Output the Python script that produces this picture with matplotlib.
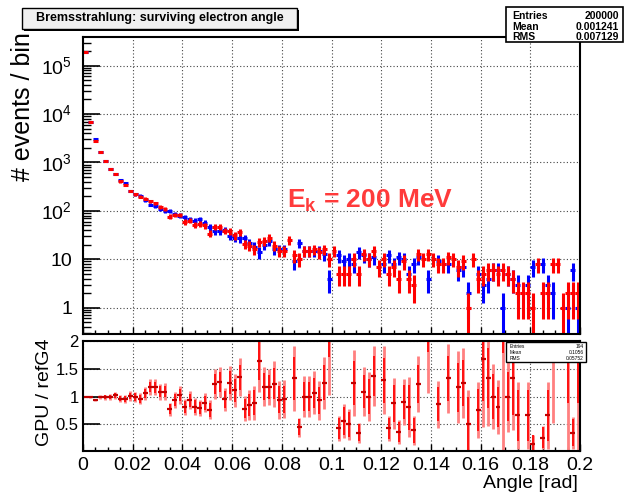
import numpy as np
import matplotlib.pyplot as plt
from matplotlib.patches import Rectangle
from matplotlib.ticker import FixedLocator, LogLocator, MultipleLocator, NullFormatter

plt.rcParams['font.family'] = ['Liberation Sans', 'DejaVu Sans']
plt.rcParams['mathtext.fontset'] = 'custom'
plt.rcParams['mathtext.rm'] = 'Liberation Sans'
plt.rcParams['mathtext.bf'] = 'Liberation Sans:bold'

# histogram binning: 100 bins over [0, 0.2] rad
n_bins = 100
x_lo, x_hi = 0.0, 0.2

# counts per bin, GPU (red) and reference Geant4 (blue)
gpu_counts = [189000, 6900, 2800, 1660, 1050, 740, 575, 405, 345, 259,
              218, 197, 177, 158, 144, 120, 108, 76, 82, 82,
              60, 63, 52, 54, 50, 34, 47, 47, 39, 38,
              31, 36, 21, 19, 16, 23, 24, 28, 19, 15,
              15, 25, 12, 10, 15, 15, 16, 14, 16, 10,
              15, 5, 5, 5, 10, 5, 13, 10, 15, 7,
              10, 5, 7, 4, 9, 4, 3, 13, 10, 13,
              10, 8, 8, 11, 10, 7, 9, 1, 10, 4,
              5, 6, 6, 5, 6, 5, 4, 2, 2, 2,
              1, 8, 2, 2, 8, 8, 1, 2, 2, 2]
ref_counts = [189000, 6900, 2990, 1680, 1060, 745, 570, 430, 368, 258,
              218, 205, 168, 135, 124, 110, 99, 99, 87, 80,
              74, 68, 63, 68, 56, 46, 38, 38, 41, 30,
              28, 27, 27, 22, 18, 14, 20, 24, 16, 16,
              16, 0, 9, 22, 15, 15, 15, 15, 13, 4,
              0, 12, 9, 10, 8, 14, 12, 10, 11, 0,
              8, 12, 8, 11, 10, 5, 8, 11, 0, 4,
              0, 9, 0, 8, 0, 6, 7, 2, 0, 5,
              3, 4, 6, 6, 1, 5, 4, 3, 0, 3,
              7, 0, 8, 3, 2, 0, 0, 1, 6, 1]
# ratio GPU / refG4 per bin (nan = no point)
ratio_vals = [1.0, 1.0, 0.94, 0.99, 0.99, 0.99, 1.02, 0.96, 0.95, 1.01,
              0.99, 0.96, 1.06, 1.17, 1.17, 1.09, 1.09, 0.77, 0.94, 1.03,
              0.81, 0.93, 0.82, 0.79, 0.89, 0.76, 1.23, 1.26, 0.95, 1.25,
              1.11, 1.35, 0.78, 0.85, 0.89, 1.64, 1.18, 1.17, 1.23, 0.94,
              0.95, np.nan, 1.33, 0.45, 1.0, 1.0, 1.07, 0.93, 1.25, 2.5,
              np.nan, 0.43, 0.56, 0.5, 1.25, 0.35, 1.09, 1.0, 1.37, np.nan,
              1.29, 0.43, 0.88, 0.36, 0.9, 0.81, 0.39, 1.23, np.nan, 2.5,
              np.nan, 0.86, np.nan, 1.33, np.nan, 1.17, 1.25, 0.5, np.nan, 0.76,
              1.67, 1.33, 1.0, 0.81, 3.0, 1.0, 1.33, 0.66, np.nan, 0.66,
              0.15, np.nan, 0.26, 0.66, 2.5, np.nan, np.nan, 3.0, 0.35, 3.0]

title_text = 'Bremsstrahlung: surviving electron angle'
stats_main = [('Entries', '200000'), ('Mean', '0.001241'), ('RMS', '0.007129')]
stats_ratio = [('Entries', '194'), ('Mean', '0.1056'), ('RMS', '0.05752')]

W, H = 624, 498


def fx(px):
    return px / W


def fy(py):
    return 1 - py / H


edges = np.linspace(x_lo, x_hi, n_bins + 1)
centers = 0.5 * (edges[:-1] + edges[1:])
half = 0.5 * (edges[1] - edges[0])

fig = plt.figure(figsize=(W / 100, H / 100), dpi=100)
ax = fig.add_axes([fx(83), fy(334), fx(580) - fx(83), fy(37) - fy(334)])
rax = fig.add_axes([fx(83), fy(451), fx(580) - fx(83), fy(341) - fy(451)])


def draw_hist(counts, color):
    c = np.asarray(counts, float)
    m = c > 0
    err = np.sqrt(c[m])
    lo = np.minimum(err, c[m] * 0.999)
    ax.errorbar(centers[m], c[m], xerr=half, yerr=[lo, err], fmt='none',
                ecolor=color, elinewidth=2.2, capsize=0)


draw_hist(ref_counts, '#0000ff')
draw_hist(gpu_counts, '#ff0000')

ax.set_yscale('log')
ax.set_xlim(x_lo, x_hi)
ax.set_ylim(0.286, 3.9e5)
ax.yaxis.set_major_locator(FixedLocator([1, 10, 100, 1e3, 1e4, 1e5]))
ax.set_yticklabels(['1', '10', '$10^{2}$', '$10^{3}$', '$10^{4}$', '$10^{5}$'])
ax.yaxis.set_minor_locator(LogLocator(base=10, subs=np.arange(2, 10), numticks=20))
ax.yaxis.set_minor_formatter(NullFormatter())
ax.xaxis.set_major_locator(MultipleLocator(0.02))
ax.xaxis.set_minor_locator(MultipleLocator(0.005))
ax.xaxis.set_major_formatter(NullFormatter())
ax.tick_params(which='both', direction='in', top=False, right=False)
ax.tick_params(axis='y', which='major', length=12, width=1.2, labelsize=14, pad=8)
ax.tick_params(axis='y', which='minor', length=6, width=1.0)
ax.tick_params(axis='x', which='major', length=5, width=1.0)
ax.tick_params(axis='x', which='minor', length=3, width=1.0)
ax.grid(True, which='major', linestyle=(0, (1, 2)), color='#444444', linewidth=0.8)

# ratio panel
r = np.asarray(ratio_vals, float)
g = np.asarray(gpu_counts, float)
b = np.asarray(ref_counts, float)
m = np.isfinite(r) & (g > 0) & (b > 0)
rerr = r[m] * np.sqrt(1 / g[m] + 1 / b[m])
rerr_num = r[m] * np.sqrt(1 / g[m])
rax.errorbar(centers[m], r[m], yerr=rerr, fmt='none', ecolor='#ff8080',
             elinewidth=2.0, capsize=0)
rax.errorbar(centers[m], r[m], yerr=rerr_num, fmt='none', ecolor='#ff1010',
             elinewidth=1.4, capsize=0)
rax.errorbar(centers[m], r[m], xerr=half, fmt='none', ecolor='#c00000',
             elinewidth=1.6, capsize=0)

rax.set_xlim(x_lo, x_hi)
rax.set_ylim(0.02, 2)
rax.yaxis.set_major_locator(FixedLocator([0.5, 1, 1.5, 2]))
rax.set_yticklabels(['0.5', '1', '1.5', '2'])
rax.set_xticks(np.arange(0, 0.201, 0.02))
rax.set_xticklabels(['0'] + ['%.2g' % v for v in np.arange(0.02, 0.201, 0.02)])
rax.xaxis.set_minor_locator(MultipleLocator(0.005))
rax.tick_params(which='both', direction='in', top=False, right=False)
rax.tick_params(axis='y', which='major', length=12, width=1.2, labelsize=12, pad=3)
rax.tick_params(axis='x', which='major', length=5, width=1.0, labelsize=14, pad=4)
rax.tick_params(axis='x', which='minor', length=3, width=1.0)
rax.grid(True, which='major', linestyle=(0, (1, 2)), color='#444444', linewidth=0.8)

for a in (ax, rax):
    for s in a.spines.values():
        s.set_linewidth(1.5)

# axis titles
fig.text(fx(23), fy(107), '# events / bin', rotation=90, ha='center', va='center', fontsize=18)
fig.text(fx(45), fy(392), 'GPU / refG4', rotation=90, ha='center', va='center', fontsize=14)
fig.text(fx(578), fy(483), 'Angle [rad]', ha='right', va='center', fontsize=14)

# energy label
fig.text(fx(287), fy(207), r'E$_{\mathbf{k}}$ = 200 MeV', color='#ff3b3b',
         fontsize=19, fontweight='bold', ha='left', va='baseline')

# title box with shadow
fig.add_artist(Rectangle((fx(24), fy(31)), fx(299) - fx(24), fy(10) - fy(31),
                         transform=fig.transFigure, fc='black', ec='none'))
fig.add_artist(Rectangle((fx(22), fy(29)), fx(297) - fx(22), fy(8) - fy(29),
                         transform=fig.transFigure, fc='#f0f0f0', ec='black', lw=1))
fig.text(fx(160), fy(18.5), title_text, ha='center', va='center', fontsize=9, fontweight='bold')

# stats box (main)
fig.add_artist(Rectangle((fx(506), fy(42)), fx(623) - fx(506), fy(7) - fy(42),
                         transform=fig.transFigure, fc='white', ec='black', lw=1.2))
for i, (k, v) in enumerate(stats_main):
    yy = fy(16 + 10.5 * i)
    fig.text(fx(512), yy, k, ha='left', va='center', fontsize=7.5, fontweight='bold')
    fig.text(fx(619), yy, v, ha='right', va='center', fontsize=7.5, fontweight='bold')

# stats box (ratio)
fig.add_artist(Rectangle((fx(506), fy(362)), fx(586) - fx(506), fy(342) - fy(362),
                         transform=fig.transFigure, fc='white', ec='black', lw=1.0))
for i, (k, v) in enumerate(stats_ratio):
    yy = fy(346 + 6 * i)
    fig.text(fx(510), yy, k, ha='left', va='center', fontsize=3.5)
    fig.text(fx(584), yy, v, ha='right', va='center', fontsize=3.5)

fig.savefig('out.png', dpi=100)
